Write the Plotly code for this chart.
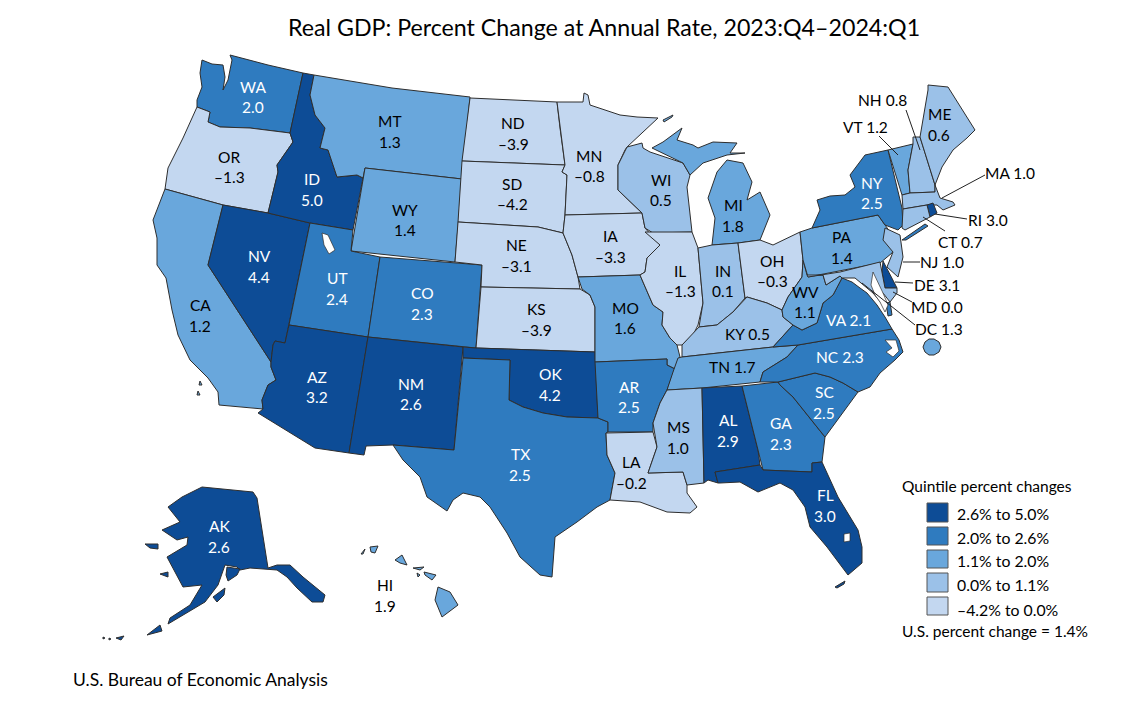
# No basemap is reachable offline (plotly's state topology is fetched from a CDN), so the state
# outlines below are hand-traced approximations from the picture, in picture coordinates.
# Colours and label text are derived from the values through the quintile bins.
import plotly.graph_objects as go

TITLE = "Real GDP: Percent Change at Annual Rate, 2023:Q4–2024:Q1"
STATES = ["WA","OR","CA","NV","ID","MT","WY","UT","AZ","CO","NM","ND","SD","NE","KS","OK","TX","MN","IA","MO","AR","LA",
          "WI","IL","MI","IN","OH","KY","TN","MS","AL","GA","FL","SC","NC","VA","WV","PA","NY","VT","NH","ME","MA","RI","CT","NJ","DE","MD","DC","AK","HI"]
VALUES = [2.0,-1.3,1.2,4.4,5.0,1.3,1.4,2.4,3.2,2.3,2.6,-3.9,-4.2,-3.1,-3.9,4.2,2.5,-0.8,-3.3,1.6,2.5,-0.2,
          0.5,-1.3,1.8,0.1,-0.3,0.5,1.7,1.0,2.9,2.3,3.0,2.5,2.3,2.1,1.1,1.4,2.5,1.2,0.8,0.6,1.0,3.0,0.7,1.0,3.1,0.0,1.3,2.6,1.9]
BIN_LOWER = [2.6, 2.0, 1.1, 0.0, -99]
BIN_COLORS = ["#0D4C96", "#2F7BBF", "#69A7DC", "#9BC1E8", "#C3D7F0"]
BIN_LABELS = ["2.6% to 5.0%", "2.0% to 2.6%", "1.1% to 2.0%", "0.0% to 1.1%", "–4.2% to 0.0%"]

OUTLINES = {
 "WA":[[(230,55),(268,65),(303,73),(290,133),(250,128),(220,127),(208,122),(210,112),(197,107),(197,100),(202,87),(200,73),(202,60),(212,64),(223,65),(225,77),(223,90),(228,80),(230,70),(232,60)]],
 "OR":[[(197,107),(210,112),(208,122),(220,127),(250,128),(290,133),(293,142),(277,165),(278,172),(268,213),(223,205),(165,189),(168,168),(183,138)]],
 "ID":[[(303,73),(314,75),(310,95),(315,115),(325,128),(320,148),(328,150),(337,177),(357,175),(363,178),(353,230),(310,223),(268,213),(278,172),(277,165),(293,142),(290,133)]],
 "MT":[[(314,75),(392,88),(470,97),(462,179),(365,168),(363,178),(357,175),(337,177),(328,150),(320,148),(325,128),(315,115),(310,95)]],
 "WY":[[(365,168),(462,179),(455,262),(351,251)]],
 "UT":[[(310,223),(353,230),(351,251),(380,257),(368,337),(289,325)]],
 "CO":[[(380,257),(482,265),(476,348),(368,337)]],
 "NV":[[(223,205),(268,213),(310,223),(289,325),(285,343),(275,341),(273,345),(271,362),(208,265)]],
 "CA":[[(165,189),(223,205),(208,265),(271,362),(271,367),(276,380),(268,385),(262,400),(263,409),(219,405),(218,392),(208,378),(190,360),(178,335),(172,310),(166,278),(157,265),(157,238),(153,220)],
       [(200,381),(202,385),(199,385)],[(198,391),(200,395),(197,395)]],
 "AZ":[[(289,325),(368,337),(349,453),(315,448),(258,413),(263,409),(262,400),(268,385),(276,380),(271,367),(271,362),(273,345),(275,341),(285,343)]],
 "NM":[[(368,337),(463,347),(454,450),(393,445),(366,446),(364,455),(349,453)]],
 "TX":[[(463,358),(510,360),(509,400),(523,407),(543,413),(567,417),(598,418),(608,422),(608,432),(606,433),(607,455),(615,473),(610,500),(597,507),(577,522),(555,537),(552,577),(540,575),(520,557),(507,533),(490,507),(480,497),(463,493),(453,500),(447,511),(427,497),(420,477),(403,460),(393,445),(454,450)]],
 "OK":[[(463,347),(476,348),(595,352),(598,418),(567,417),(543,413),(523,407),(509,400),(510,360),(463,358)]],
 "KS":[[(481,287),(580,289),(590,295),(595,307),(595,352),(476,348)]],
 "NE":[[(458,222),(538,227),(563,233),(572,255),(578,277),(580,289),(481,287),(482,265),(455,262)]],
 "SD":[[(462,161),(565,165),(562,172),(567,175),(565,215),(564,225),(563,233),(538,227),(458,222)]],
 "ND":[[(470,98),(557,102),(560,128),(565,165),(462,161)]],
 "MN":[[(557,102),(583,102),(584,93),(588,95),(590,105),(620,115),(637,117),(658,118),(627,147),(625,150),(618,165),(618,190),(642,213),(565,215),(567,175),(562,172),(565,165),(560,128)]],
 "IA":[[(565,215),(642,213),(645,228),(660,245),(647,258),(645,272),(640,275),(578,277),(572,255),(563,233)]],
 "MO":[[(578,277),(640,275),(643,282),(653,305),(663,312),(662,325),(670,338),(677,345),(680,357),(675,369),(667,365),(667,359),(595,362),(595,307),(590,295),(582,289)]],
 "AR":[[(595,362),(667,359),(667,365),(675,369),(670,382),(667,390),(660,403),(653,423),(653,432),(608,432),(608,422),(598,418)]],
 "LA":[[(606,433),(653,432),(657,447),(648,473),(683,472),(687,485),(687,493),(697,507),(690,513),(667,512),(640,502),(610,500),(615,473),(607,455)]],
 "WI":[[(627,147),(642,143),(643,148),(650,152),(683,163),(690,175),(687,187),(692,232),(653,233),(645,228),(642,213),(618,190),(618,165),(625,150)]],
 "IL":[[(645,232),(692,232),(698,248),(703,303),(698,325),(693,335),(682,345),(677,345),(670,338),(662,325),(663,312),(653,305),(643,282),(640,275),(645,272),(647,258),(660,245)]],
 "MI":[[(652,148),(663,142),(682,128),(677,140),(693,145),(698,148),(713,142),(737,143),(730,153),(745,153),(727,155),(703,163),(690,175),(683,163)],
       [(727,160),(743,163),(752,182),(747,200),(760,192),(770,215),(760,240),(738,243),(712,245),(715,218),(708,198),(717,172)],
       [(663,120),(673,115),(672,117),(664,122)]],
 "IN":[[(698,248),(712,245),(738,243),(745,298),(733,312),(717,325),(699,327),(703,303)]],
 "OH":[[(738,243),(760,240),(773,245),(800,232),(803,260),(802,277),(788,297),(782,310),(767,303),(747,297),(745,298)]],
 "KY":[[(682,345),(699,327),(717,325),(733,312),(747,297),(767,303),(782,310),(783,317),(793,325),(773,347),(700,355),(682,357)]],
 "TN":[[(682,357),(700,355),(773,347),(798,345),(787,357),(763,372),(760,382),(702,388),(667,390),(673,372),(678,358)]],
 "MS":[[(667,390),(702,388),(704,483),(687,485),(683,472),(648,473),(657,447),(653,423),(660,403)]],
 "AL":[[(702,388),(742,386),(758,450),(760,465),(715,472),(718,483),(708,480),(704,483)]],
 "GA":[[(742,386),(778,382),(780,385),(793,397),(825,437),(822,462),(812,463),(812,472),(763,470),(758,450)]],
 "FL":[[(715,472),(760,465),(763,470),(812,472),(812,463),(822,462),(838,497),(858,530),(862,547),(862,563),(848,575),(827,547),(810,527),(805,507),(793,490),(780,483),(758,492),(740,482),(720,483),(718,483)],
       [(835,587),(845,581),(844,584),(837,588)]],
 "SC":[[(778,382),(815,373),(830,377),(843,383),(858,392),(840,417),(828,433),(825,437),(793,397),(780,385)]],
 "NC":[[(798,345),(892,329),(899,340),(903,352),(895,360),(880,373),(870,387),(858,392),(843,383),(830,377),(815,373),(778,382),(760,382),(763,372),(787,357)]],
 "VA":[[(773,347),(793,325),(802,330),(817,323),(823,303),(833,295),(842,278),(852,282),(860,288),(867,293),(877,305),(885,317),(892,329),(798,345)],
       [(886,303),(890,302),(892,315),(888,316)]],
 "WV":[[(803,260),(807,275),(823,275),(826,285),(840,276),(842,278),(833,295),(823,303),(817,323),(802,330),(793,325),(783,317),(782,310),(788,297),(802,277)]],
 "PA":[[(800,232),(812,228),(878,215),(885,225),(890,232),(898,242),(892,253),(880,263),(808,277),(803,260)]],
 "NY":[[(812,228),(820,210),(817,200),(830,196),(845,195),(855,187),(850,175),(865,155),(888,150),(902,208),(903,225),(898,230),(885,225),(878,215)],
       [(902,240),(925,224),(928,226),(906,240)]],
 "VT":[[(888,150),(913,144),(908,170),(910,193),(902,195)]],
 "NH":[[(913,137),(920,137),(935,185),(935,192),(910,193),(908,170),(913,144)]],
 "ME":[[(920,137),(928,90),(928,85),(948,87),(975,130),(967,138),(953,150),(942,167),(935,185)]],
 "MA":[[(902,195),(910,193),(935,192),(935,185),(940,198),(953,202),(955,205),(943,210),(937,205),(927,205),(903,209)]],
 "RI":[[(927,205),(933,203),(937,213),(930,217)]],
 "CT":[[(903,209),(927,205),(930,217),(905,230),(902,228)]],
 "NJ":[[(885,228),(900,235),(903,257),(898,277),(887,267),(893,252),(883,240)]],
 "DE":[[(883,261),(895,285),(897,288),(885,288),(882,272)]],
 "MD":[[(808,277),(840,272),(880,262),(882,272),(885,288),(897,288),(897,293),(890,302),(883,293),(878,288),(875,278),(873,293),(880,298),(883,305),(873,293),(855,278),(842,278),(840,276),(826,285),(823,275),(807,275)]],
 "DC":[[(923,347),(925,342),(929,339),(934,339),(939,342),(941,347),(939,352),(934,355),(929,355),(925,352)]],
 "AK":[[(202,487),(253,492),(257,498),(268,568),(277,565),(290,565),(303,577),(325,595),(323,602),(312,602),(297,588),(287,577),(277,570),(250,568),(240,570),(237,567),(225,565),(218,585),(205,602),(180,617),(168,624),(170,618),(190,605),(202,585),(183,587),(167,557),(187,545),(188,537),(177,540),(162,530),(180,522),(168,507),(182,497)],
       [(145,544),(158,544),(158,549),(150,548)],[(213,597),(225,588),(224,595),(217,602)],[(147,635),(160,625),(162,631)],
       [(227,567),(240,569),(237,575),(228,581),(226,575)],
       [(103,637),(105,638),(103,639)],[(109,638),(111,639),(109,640)],[(116,638),(124,636),(121,640)],[(160,574),(168,572),(168,577)]],
 "HI":[[(438,587),(450,592),(458,605),(442,617),(435,600)],[(424,572),(436,575),(432,580),(425,575)],[(413,568),(424,567),(420,570)],
       [(417,573),(420,575),(418,577)],[(395,560),(402,555),(407,565),(400,563)],[(370,547),(378,546),(375,553),(371,552)],[(361,554),(365,549),(363,554)]],
}
WATER = [[(322,233),(328,235),(335,250),(329,254),(324,245)],[(844,534),(850,533),(850,541),(844,542)],
         [(885,340),(896,340),(899,351),(893,357),(886,352),(892,348)],
         [(873,272),(877,280),(883,293),(888,305),(885,312),(880,302),(875,295),(871,285)]]

LABELS = {"WA":(253,87,107),"OR":(229,157,177),"MT":(390,121,142),"ID":(312,179,200),"WY":(405,210,230),"NV":(259,256,277),
 "UT":(337,278,299),"CO":(422,293,314),"CA":(200,305,326),"AZ":(317,377,397),"NM":(411,384,404),"TX":(520,454,475),"OK":(550,374,395),
 "AR":(629,387,407),"MS":(678,427,448),"AL":(728,420,441),"GA":(781,423,444),"SC":(824,392,413),"FL":(825,495,516),"LA":(631,462,483),
 "ND":(513,123,144),"SD":(512,184,204),"NE":(516,245,266),"KS":(536,309,330),"IA":(610,236,257),"MN":(589,156,176),"IL":(680,271,291),
 "MO":(625,308,328),"WI":(661,180,200),"MI":(733,205,226),"IN":(723,271,291),"OH":(772,261,281),"PA":(842,237,258),"WV":(805,292,312),
 "NY":(872,183,203),"ME":(939,114,135),"AK":(219,526,547),"HI":(385,585,606)}
INLINE = {"KY":(747,334),"TN":(732,367),"NC":(840,357),"VA":(848,320),"NH":(882,100),"VT":(865,127),"MA":(1010,173),"RI":(988,220),
          "CT":(960,242),"NJ":(942,262),"DE":(937,285),"MD":(937,307),"DC":(939,329)}
LEADERS = [((906,110),(920,150)),((879,136),(898,155)),((985,175),(942,198)),((967,219),(935,214)),((945,231),(923,217)),
           ((920,262),(903,262)),((913,283),(895,282)),((912,302),(893,292)),((915,325),(862,283))]

value_of = dict(zip(STATES, VALUES))
def bin_of(v):
    return next(i for i, low in enumerate(BIN_LOWER) if v >= low)
def fmt(v):
    return ("–" if v < 0 else "") + f"{abs(v):.1f}"

FONT = "Lato, Carlito, Calibri, sans-serif"
fig = go.Figure()
for s in STATES:
    xs, ys = [], []
    for part in OUTLINES[s]:
        pts = part + [part[0]]
        xs += [p[0] for p in pts] + [None]
        ys += [p[1] for p in pts] + [None]
    fig.add_trace(go.Scatter(x=xs, y=ys, mode="lines", fill="toself", fillcolor=BIN_COLORS[bin_of(value_of[s])],
                             line=dict(color="#2e2e2e", width=1), name=s, hoverinfo="name", showlegend=False))
for part in WATER:
    pts = part + [part[0]]
    fig.add_trace(go.Scatter(x=[p[0] for p in pts], y=[p[1] for p in pts], mode="lines", fill="toself", fillcolor="white",
                             line=dict(color="#2e2e2e", width=0.7), hoverinfo="skip", showlegend=False))

def text(x, y, t, size=15.5, color="black", anchor="center"):
    fig.add_annotation(x=x, y=y, xref="x", yref="y", text=t, showarrow=False, xanchor=anchor, yanchor="middle",
                       font=dict(family=FONT, size=size, color=color))

for s, (x, y1, y2) in LABELS.items():
    c = "white" if bin_of(value_of[s]) <= 1 else "black"
    text(x, y1, s, color=c); text(x, y2, fmt(value_of[s]), color=c)
for s, (x, y) in INLINE.items():
    c = "white" if s in ("NC", "VA") else "black"
    text(x, y, f"{s} {fmt(value_of[s])}", color=c)
for a, b in LEADERS:
    fig.add_shape(type="line", x0=a[0], y0=a[1], x1=b[0], y1=b[1], line=dict(color="#222", width=1))

text(604, 27, TITLE, size=23.2)
text(900, 486, "Quintile percent changes", size=15.5, anchor="left")
for (y0, y1, yc), col, lab in zip([(503,522,513),(527,545,537),(550,568,560),(573,592,584),(597,615,609)], BIN_COLORS, BIN_LABELS):
    fig.add_shape(type="rect", x0=927, x1=948, y0=y0, y1=y1, fillcolor=col, line=dict(color="#555", width=1))
    text(955, yc, lab, size=15.8, anchor="left")
text(900, 631, "U.S. percent change = 1.4%", size=15.5, anchor="left")
text(71, 679, "U.S. Bureau of Economic Analysis", size=17.5, anchor="left")

fig.update_layout(width=1124, height=708, margin=dict(l=0, r=0, t=0, b=0), paper_bgcolor="white", plot_bgcolor="white",
                  xaxis=dict(range=[0,1124], visible=False, fixedrange=True), yaxis=dict(range=[708,0], visible=False, fixedrange=True))
fig.write_html("out.html", config=dict(displayModeBar=False),
               post_script="document.body.style.margin='0';document.body.style.overflow='hidden';")
